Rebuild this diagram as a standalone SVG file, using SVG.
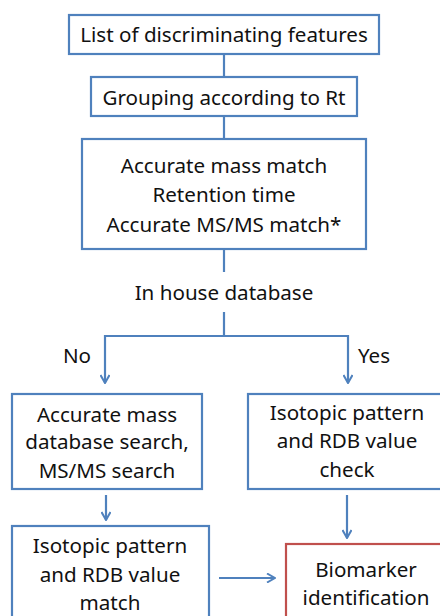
<svg xmlns="http://www.w3.org/2000/svg" width="440" height="616" viewBox="0 0 440 616">
<style>
.b{fill:#fff;stroke:#4F81BD;stroke-width:2.2}
.r{fill:#fff;stroke:#C0504D;stroke-width:2.2}
.c{fill:none;stroke:#4F81BD;stroke-width:2.2}
text{font-family:"Noto Sans","Open Sans",sans-serif;font-size:20.6px;fill:#111;text-anchor:middle}
</style>
<defs>
<marker id="a" viewBox="0 0 10 10" refX="9" refY="5" markerWidth="10" markerHeight="10" markerUnits="userSpaceOnUse" orient="auto">
<path d="M1,0.5 L9,5 L1,9.5" fill="none" stroke="#4F81BD" stroke-width="2"/>
</marker>
</defs>
<rect width="440" height="616" fill="#fff"/>
<g id="connectors">
<line class="c" x1="224" y1="54" x2="224" y2="77"/>
<line class="c" x1="224" y1="116" x2="224" y2="139"/>
<line class="c" x1="224" y1="249" x2="224" y2="272"/>
<path class="c" d="M224,312 V336 M105,336 H348"/>
<line class="c" x1="105" y1="335" x2="105" y2="383" marker-end="url(#a)"/>
<line class="c" x1="348" y1="335" x2="348" y2="383" marker-end="url(#a)"/>
<line class="c" x1="106" y1="495" x2="106" y2="520" marker-end="url(#a)"/>
<line class="c" x1="347" y1="495" x2="347" y2="538" marker-end="url(#a)"/>
<line class="c" x1="219" y1="578" x2="275" y2="578" marker-end="url(#a)"/>
</g>
<g id="n1"><rect class="b" x="69" y="15" width="310" height="39"/><text x="224" y="42">List of discriminating features</text></g>
<g id="n2"><rect class="b" x="91" y="77" width="266" height="39"/><text x="224" y="105">Grouping according to Rt</text></g>
<g id="n3"><rect class="b" x="82" y="139" width="284" height="110"/><text x="224" y="173">Accurate mass match</text><text x="224" y="202">Retention time</text><text x="224" y="232">Accurate MS/MS match*</text></g>
<g id="n4"><text x="224" y="300">In house database</text></g>
<g id="lbl"><text x="77" y="363">No</text><text x="374" y="363">Yes</text></g>
<g id="n5"><rect class="b" x="12" y="394" width="190" height="95"/><text x="107" y="422">Accurate mass</text><text x="107" y="449">database search,</text><text x="107" y="478">MS/MS search</text></g>
<g id="n6"><rect class="b" x="248" y="394" width="200" height="95"/><text x="347" y="420">Isotopic pattern</text><text x="347" y="448">and RDB value</text><text x="347" y="477">check</text></g>
<g id="n7"><rect class="b" x="12" y="526" width="197" height="100"/><text x="110" y="553">Isotopic pattern</text><text x="110" y="582">and RDB value</text><text x="110" y="610">match</text></g>
<g id="n8"><rect class="r" x="286" y="544" width="170" height="90"/><text x="366" y="577">Biomarker</text><text x="366" y="605">identification</text></g>
</svg>
